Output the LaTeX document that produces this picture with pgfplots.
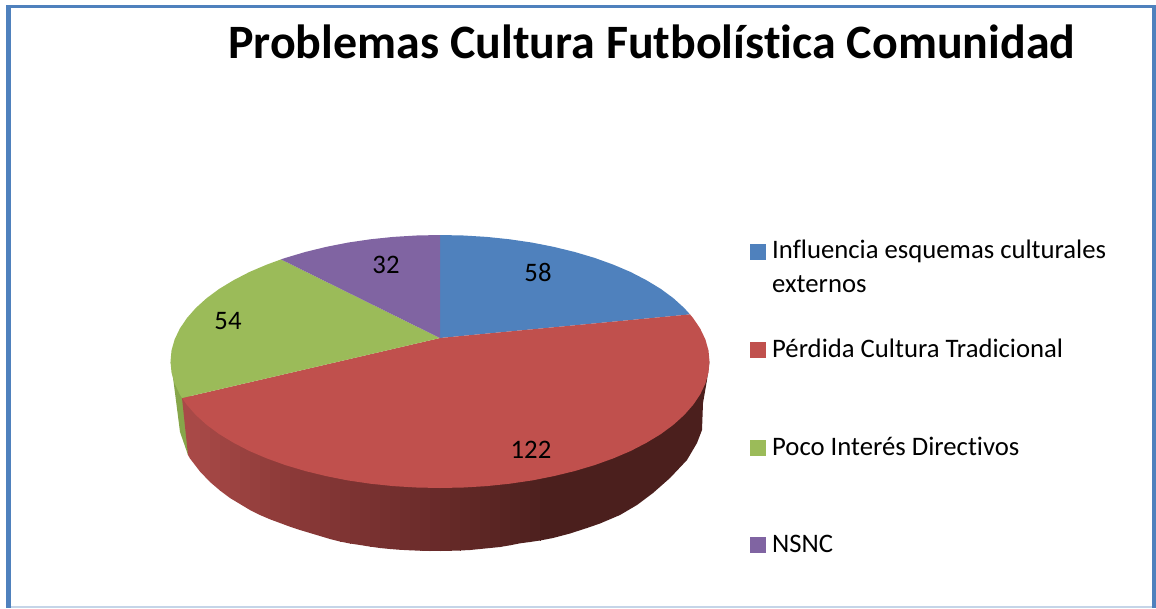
\documentclass[border=0pt]{standalone}
\usepackage{pgfplots}
\pgfplotsset{compat=1.18}
\usepackage{fontspec}
\setmainfont[Ligatures=NoCommon]{Carlito}
\definecolor{cblue}{HTML}{4F81BD}
\definecolor{cred}{HTML}{C0504D}
\definecolor{cgreen}{HTML}{9BBB59}
\definecolor{cpurple}{HTML}{8064A2}
\definecolor{cgreenside}{HTML}{86A64A}
\definecolor{cpale}{HTML}{C5D5E8}
\newcommand{\strip}[8]{\addplot[fill={rgb,255:red,#5;green,#6;blue,#7}, draw={rgb,255:red,#5;green,#6;blue,#7}, line width=0.4pt] coordinates {(#1,#3)(#1,#8)(#2,#8)(#2,#4)};}
\begin{document}
\begin{tikzpicture}
\useasboundingbox (0,0) rectangle (1156pt,608pt);
\begin{axis}[
  at={(0,0)}, anchor=south west,
  hide axis, scale only axis, width=1156pt, height=608pt,
  xmin=0, xmax=1156, ymin=0, ymax=608, y dir=reverse,
  clip=true]
% frame
\addplot[fill=cblue, draw=none] coordinates {(6,5)(1156,5)(1156,8)(6,8)};
\addplot[fill=cblue, draw=none] coordinates {(6,5)(11,5)(11,608)(6,608)};
\addplot[fill=cblue, draw=none] coordinates {(1151.5,5)(1156,5)(1156,608)(1151.5,608)};
\addplot[fill=cpale, draw=none] coordinates {(11,606)(1151.5,606)(1151.5,608)(11,608)};
% side walls
\addplot[fill=cgreenside, draw=none] coordinates {(170.5,361.5)(172,370)(175,393)(180,432)(188,455)(195,400)(182,390)};
\addplot[fill={rgb,255:red,169;green,74;blue,72}, draw=none] coordinates {(182,398)(190,398)(190,458.5)(188,455)};
\strip{190}{200}{458.5}{471.5}{168}{73}{71}{398}
\strip{200}{210}{471.5}{482}{165}{72}{70}{398}
\strip{210}{220}{482}{490.5}{162}{70}{68}{398}
\strip{220}{230}{490.5}{498}{159}{68}{66}{398}
\strip{230}{240}{498}{504}{156}{67}{65}{398}
\strip{240}{250}{504}{510}{153}{65}{63}{420}
\strip{250}{260}{510}{515}{150}{64}{62}{420}
\strip{260}{270}{515}{519.3}{147}{62}{60}{420}
\strip{270}{280}{519.3}{523}{144}{60}{58}{420}
\strip{280}{290}{523}{526.7}{141}{59}{57}{420}
\strip{290}{300}{526.7}{530}{139}{57}{56}{420}
\strip{300}{310}{530}{533}{136}{56}{55}{420}
\strip{310}{320}{533}{536}{134}{55}{54}{420}
\strip{320}{330}{536}{539}{132}{54}{53}{420}
\strip{330}{340}{539}{541.5}{129}{53}{52}{420}
\strip{340}{350}{541.5}{543.5}{127}{52}{51}{420}
\strip{350}{360}{543.5}{545}{124}{51}{50}{420}
\strip{360}{370}{545}{546.6}{122}{50}{49}{420}
\strip{370}{380}{546.6}{548}{120}{49}{48}{420}
\strip{380}{390}{548}{549}{117}{48}{47}{420}
\strip{390}{400}{549}{549.8}{115}{47}{46}{420}
\strip{400}{410}{549.8}{550.3}{112}{46}{45}{420}
\strip{410}{420}{550.3}{550.7}{110}{45}{44}{420}
\strip{420}{430}{550.7}{551}{108}{44}{43}{420}
\strip{430}{440}{551}{551}{105}{42}{42}{420}
\strip{440}{450}{551}{550.8}{103}{42}{40}{420}
\strip{450}{460}{550.8}{550.5}{100}{41}{39}{420}
\strip{460}{470}{550.5}{550}{97}{40}{38}{420}
\strip{470}{480}{550}{549}{95}{39}{37}{420}
\strip{480}{490}{549}{548}{92}{38}{36}{420}
\strip{490}{500}{548}{547}{90}{37}{35}{420}
\strip{500}{510}{547}{545.3}{87}{36}{34}{420}
\strip{510}{520}{545.3}{543.3}{84}{35}{33}{420}
\strip{520}{530}{543.3}{542}{82}{34}{32}{420}
\strip{530}{540}{542}{540.5}{79}{33}{31}{420}
\addplot[fill={rgb,255:red,75;green,31;blue,29}, draw=none] coordinates {(540,420)(709.5,361.5)(707,380)(703,403)(702,430)(697,443)(687,460)(670,478)(653,493)(637,505)(620,515)(600,523.5)(587,528)(570,533.5)(553,538)(540,540.5)};
% top face: blue
\addplot[fill=cblue, draw=none] coordinates {
 (440,338)(440,235)(463.5,235.5)(486.8,236.9)(509.7,239.3)(532.2,242.6)(553.9,246.9)(574.8,252.0)(594.6,257.9)(613.2,264.6)(630.6,272.0)(646.4,280.2)(660.8,288.9)(673.4,298.2)(684.2,308.0)(690,314.4)};
% top face: red
\addplot[fill=cred, draw=none] coordinates {
 (440,338)(690,314.4)(693.2,318.2)(700.3,328.8)(705.4,339.5)(708.5,350.5)(709.5,361.5)(708.5,372.5)(705.4,383.5)(700.3,394.2)(693.2,404.8)(684.2,415.0)(673.4,424.8)(660.8,434.1)(646.4,442.8)(630.6,451.0)(613.2,458.4)(594.6,465.1)(574.8,471.0)(553.9,476.1)(532.2,480.4)(509.7,483.7)(486.8,486.1)(463.5,487.5)(440,488)(416.5,487.5)(393.2,486.1)(370.3,483.7)(347.8,480.4)(326.1,476.1)(305.2,471.0)(285.4,465.1)(266.8,458.4)(249.4,451.0)(233.6,442.8)(219.2,434.1)(206.6,424.8)(195.8,415.0)(186.8,404.8)(182,398)};
% top face: green
\addplot[fill=cgreen, draw=none] coordinates {
 (440,338)(182,398)(179.7,394.2)(174.6,383.5)(171.5,372.5)(170.5,361.5)(171.5,350.5)(174.6,339.5)(179.7,328.8)(186.8,318.2)(195.8,308.0)(206.6,298.2)(219.2,288.9)(233.6,280.2)(249.4,272.0)(266.8,264.6)(281,259.4)};
% top face: purple
\addplot[fill=cpurple, draw=none] coordinates {
 (440,338)(281,259.4)(285.4,257.9)(305.2,252.0)(326.1,246.9)(347.8,242.6)(370.3,239.3)(393.2,236.9)(416.5,235.5)(440,235)};
% data labels
\addplot[only marks, mark size=0pt, draw=none, point meta=explicit symbolic,
  nodes near coords, every node near coord/.style={anchor=base, inner sep=0pt, text=black, font=\fontsize{26.7}{30}\selectfont}]
  coordinates {(538,281)[58] (531,458)[122] (228,329)[54] (386,273)[32]};
% legend keys
\addplot[only marks, mark=square*, mark size=7.5pt, mark options={draw=cblue, fill=cblue, line width=0pt}] coordinates {(757.5,251.5)};
\addplot[only marks, mark=square*, mark size=7.5pt, mark options={draw=cred, fill=cred, line width=0pt}] coordinates {(757.5,349.5)};
\addplot[only marks, mark=square*, mark size=7.5pt, mark options={draw=cgreen, fill=cgreen, line width=0pt}] coordinates {(757.5,447.5)};
\addplot[only marks, mark=square*, mark size=7.5pt, mark options={draw=cpurple, fill=cpurple, line width=0pt}] coordinates {(757.5,544.5)};
% legend text
\tikzset{lg/.style={anchor=base west, inner sep=0pt, font=\fontsize{26.7}{30}\selectfont}}
\node[lg] at (axis cs:772,258.5) {Influencia esquemas culturales};
\node[lg] at (axis cs:772,292) {externos};
\node[lg] at (axis cs:772,357) {Pérdida Cultura Tradicional};
\node[lg] at (axis cs:772,455) {Poco Interés Directivos};
\node[lg] at (axis cs:772,552) {NSNC};
% title
\node[anchor=base west, inner sep=0pt, font=\fontsize{47.95}{50}\selectfont\bfseries] at (axis cs:228,58) {Problemas Cultura Futbolística Comunidad};
\end{axis}
\end{tikzpicture}
\end{document}
